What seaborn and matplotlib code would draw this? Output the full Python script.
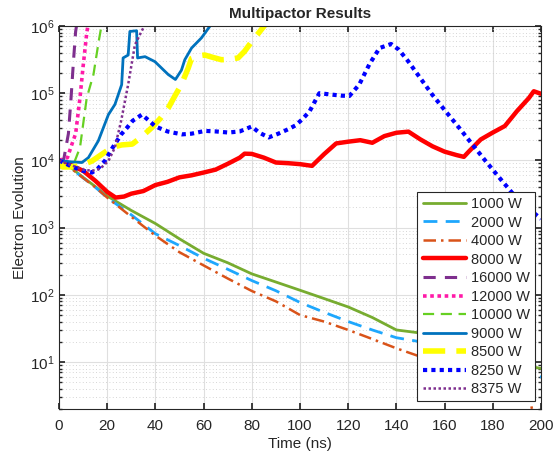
import numpy as np
import pandas as pd
import matplotlib
matplotlib.use("Agg")
import matplotlib.pyplot as plt
import seaborn as sns

# ---- data (time in ns, electron count) ----
t_1000 = [0, 5, 10, 15, 20, 30, 40, 50, 60, 70, 80, 90, 100, 110, 120, 130, 140, 150, 160, 170, 180, 190, 200]
y_1000 = [1e4, 7800, 5600, 4100, 2950, 1800, 1150, 680, 415, 300, 205, 155, 117, 88, 66, 46, 30, 27, 20, 15, 12, 9.5, 8]

t_2000 = [0, 5, 10, 15, 20, 30, 40, 50, 60, 70, 80, 90, 100, 110, 120, 130, 140, 150, 160, 170, 180, 190, 195, 200]
y_2000 = [1e4, 7600, 5500, 4000, 2800, 1550, 810, 540, 350, 240, 163, 115, 77, 55, 40, 30, 23, 20, 15, 12, 9.5, 7.5, 6.2, 6]

t_4000 = [0, 5, 10, 15, 20, 30, 40, 50, 60, 70, 80, 90, 100, 110, 120, 130, 140, 150, 160, 170, 180, 190, 195, 196, 197, 200]
y_4000 = [1e4, 7600, 5500, 4000, 2800, 1450, 760, 430, 274, 175, 114, 80, 50, 40, 30, 22, 16, 12, 9, 7, 5.5, 4.5, 3.1, 2.2, 1.5, 1.5]

t_8000 = [0, 5, 10, 15, 20, 23.5, 27, 30, 35, 40, 45, 50, 55, 60, 65, 70, 75, 77, 80, 85, 90, 95, 100, 105, 110,
          115, 120, 125, 130, 135, 140, 145, 150, 155, 160, 165, 168, 170, 175, 180, 185, 190, 195, 197, 200]
y_8000 = [1e4, 8500, 7000, 5000, 3400, 2800, 2900, 3200, 3500, 4300, 4800, 5600, 6000, 6600, 7300, 8900, 11000, 12600,
          12500, 11000, 9300, 9100, 8800, 8300, 12400, 17900, 19000, 20000, 18300, 23000, 25800, 26800, 20500, 16200,
          13500, 12000, 11300, 13500, 20500, 26000, 32500, 54000, 85000, 107000, 98000]

t_16000 = [0, 2, 3.9, 5, 6, 6.9, 7.6]
y_16000 = [1e4, 1.05e4, 2.5e4, 8.5e4, 3e5, 8.3e5, 1.2e6]

t_12000 = [0, 3.5, 5, 6.9, 8.7, 10, 11.5, 12.3]
y_12000 = [1e4, 1.1e4, 1.6e4, 2.5e4, 8.5e4, 2.5e5, 7.8e5, 1.2e6]

t_10000 = [0, 4, 6, 8.7, 11.5, 14.3, 16.5, 18]
y_10000 = [1e4, 9500, 8700, 1.55e4, 8.5e4, 1.9e5, 6e5, 1.2e6]

t_9000 = [0, 5, 9.5, 12.2, 16.3, 20.5, 23.2, 26, 26.6, 28.7, 29.4, 32.2, 32.6, 35.7, 39.8, 45.3, 48.3, 50.8, 52.2,
          55, 59.1, 63.5]
y_9000 = [1e4, 9500, 9300, 11000, 19500, 48000, 68000, 134000, 335000, 370000, 830000, 850000, 335000, 350000,
          295000, 190000, 160000, 220000, 315000, 470000, 665000, 1.1e6]

t_8500 = [0, 1.5, 5, 8.7, 13.7, 18, 22, 26, 30.4, 34, 38.6, 42, 45.3, 48, 50.8, 53.6, 55, 58, 60.5, 64, 67.4, 71,
          74.3, 77, 80, 83, 86]
y_8500 = [1e4, 8000, 8000, 8300, 9800, 12500, 15600, 17000, 17500, 22000, 31000, 42000, 60000, 90000, 135000,
          236000, 330000, 360000, 370000, 340000, 315000, 320000, 335000, 420000, 590000, 800000, 1.1e6]

t_8250 = [0, 5, 10, 13.7, 16, 19, 22, 25.8, 28, 30.6, 34.4, 37, 40, 45, 51, 55, 60.6, 65, 70.3, 75, 80, 83, 87, 91,
          95, 98, 101, 104, 108, 113.6, 117, 120.5, 124.6, 128.8, 133, 137.8, 141, 145, 149.4, 154.9, 160.4, 165.9,
          171.4, 177, 182.6, 188, 195, 200]
y_8250 = [1e4, 8200, 7000, 6600, 7500, 9800, 15000, 24400, 30000, 39000, 48000, 40000, 32000, 27000, 24400, 25000,
          27500, 27000, 26000, 27000, 32000, 26000, 22000, 25000, 29000, 33000, 41000, 54000, 100000, 95000, 92000,
          91000, 135000, 270000, 470000, 540000, 445000, 295000, 178000, 95000, 54000, 31000, 17500, 9800, 5600,
          3300, 1900, 1350]

t_8375 = [0, 5, 10, 13.7, 17, 20.5, 23.2, 25.8, 28.7, 31.5, 34, 36]
y_8375 = [1e4, 8500, 7300, 7000, 7500, 9800, 15600, 39000, 135000, 525000, 800000, 1.1e6]

labels = ["1000 W", "2000 W", "4000 W", "8000 W", "16000 W", "12000 W",
          "10000 W", "9000 W", "8500 W", "8250 W", "8375 W"]
times = [t_1000, t_2000, t_4000, t_8000, t_16000, t_12000, t_10000, t_9000, t_8500, t_8250, t_8375]
values = [y_1000, y_2000, y_4000, y_8000, y_16000, y_12000, y_10000, y_9000, y_8500, y_8250, y_8375]

# line styles per series (color, dash pattern, width)
colors = ["#77AC30", "#1EA7FD", "#D95319", "#FF0000", "#7E2F8E", "#FF1AA8",
          "#66D022", "#0072BD", "#FFFF00", "#0000FF", "#7E2F8E"]
styles = ["-", (0, (5, 3)), (0, (5, 2, 1, 2)), "-", (0, (4, 3)), (0, (1, 1)),
          (0, (5, 3)), "-", (0, (4, 2)), (0, (1, 1)), (0, (1, 1))]
widths = [2.0, 2.0, 1.8, 3.2, 2.2, 2.6, 1.6, 2.0, 4.0, 3.0, 1.8]

sns.set_theme(style="ticks")
plt.rcParams["font.family"] = ["Liberation Sans", "DejaVu Sans"]
plt.rcParams["mathtext.fontset"] = "custom"
plt.rcParams["mathtext.rm"] = "Liberation Sans"

fig = plt.figure(figsize=(5.53, 4.58), dpi=100)
ax = fig.add_axes([0.1067, 0.107, 0.8716, 0.8362])

for i in range(len(labels)):
    df = pd.DataFrame({"t": times[i], "y": values[i]})
    sns.lineplot(data=df, x="t", y="y", ax=ax, color=colors[i], linestyle=styles[i],
                 linewidth=widths[i], label=labels[i], sort=False, estimator=None)

ax.set_yscale("log")
ax.set_xlim(0, 200)
ax.set_ylim(2, 1e6)
ax.set_xticks(np.arange(0, 201, 20))
ax.set_yticks([1e1, 1e2, 1e3, 1e4, 1e5, 1e6])

# MATLAB-like grid: light major grid, dotted minor grid on y
ax.grid(True, which="major", color="#DFDFDF", linewidth=0.8)
ax.grid(True, which="minor", axis="y", color="#C8C8C8", linestyle=(0, (1, 3)), linewidth=0.6)
ax.set_axisbelow(True)

ax.tick_params(which="both", direction="in", top=True, right=True, colors="#262626", labelsize=11)
ax.tick_params(which="major", length=4)
ax.tick_params(which="minor", length=2.5)
ax.tick_params(axis="x", pad=7)
for s in ax.spines.values():
    s.set_color("#262626")
    s.set_linewidth(0.8)

ax.set_title("Multipactor Results", fontsize=11, fontweight="bold", pad=6)
ax.set_xlabel("Time (ns)", fontsize=11, color="#262626", labelpad=3)
ax.set_ylabel("Electron Evolution", fontsize=11, color="#262626", labelpad=2)

leg = ax.legend(loc="lower right", bbox_to_anchor=(0.987, 0.02), borderaxespad=0, fontsize=10.5,
                handlelength=3.0, labelspacing=0.31, borderpad=0.35, handletextpad=0.3,
                frameon=True, fancybox=False)
leg.get_frame().set_edgecolor("#262626")
leg.get_frame().set_linewidth(0.8)
leg.get_frame().set_alpha(1)

fig.savefig("out.png", dpi=100)
